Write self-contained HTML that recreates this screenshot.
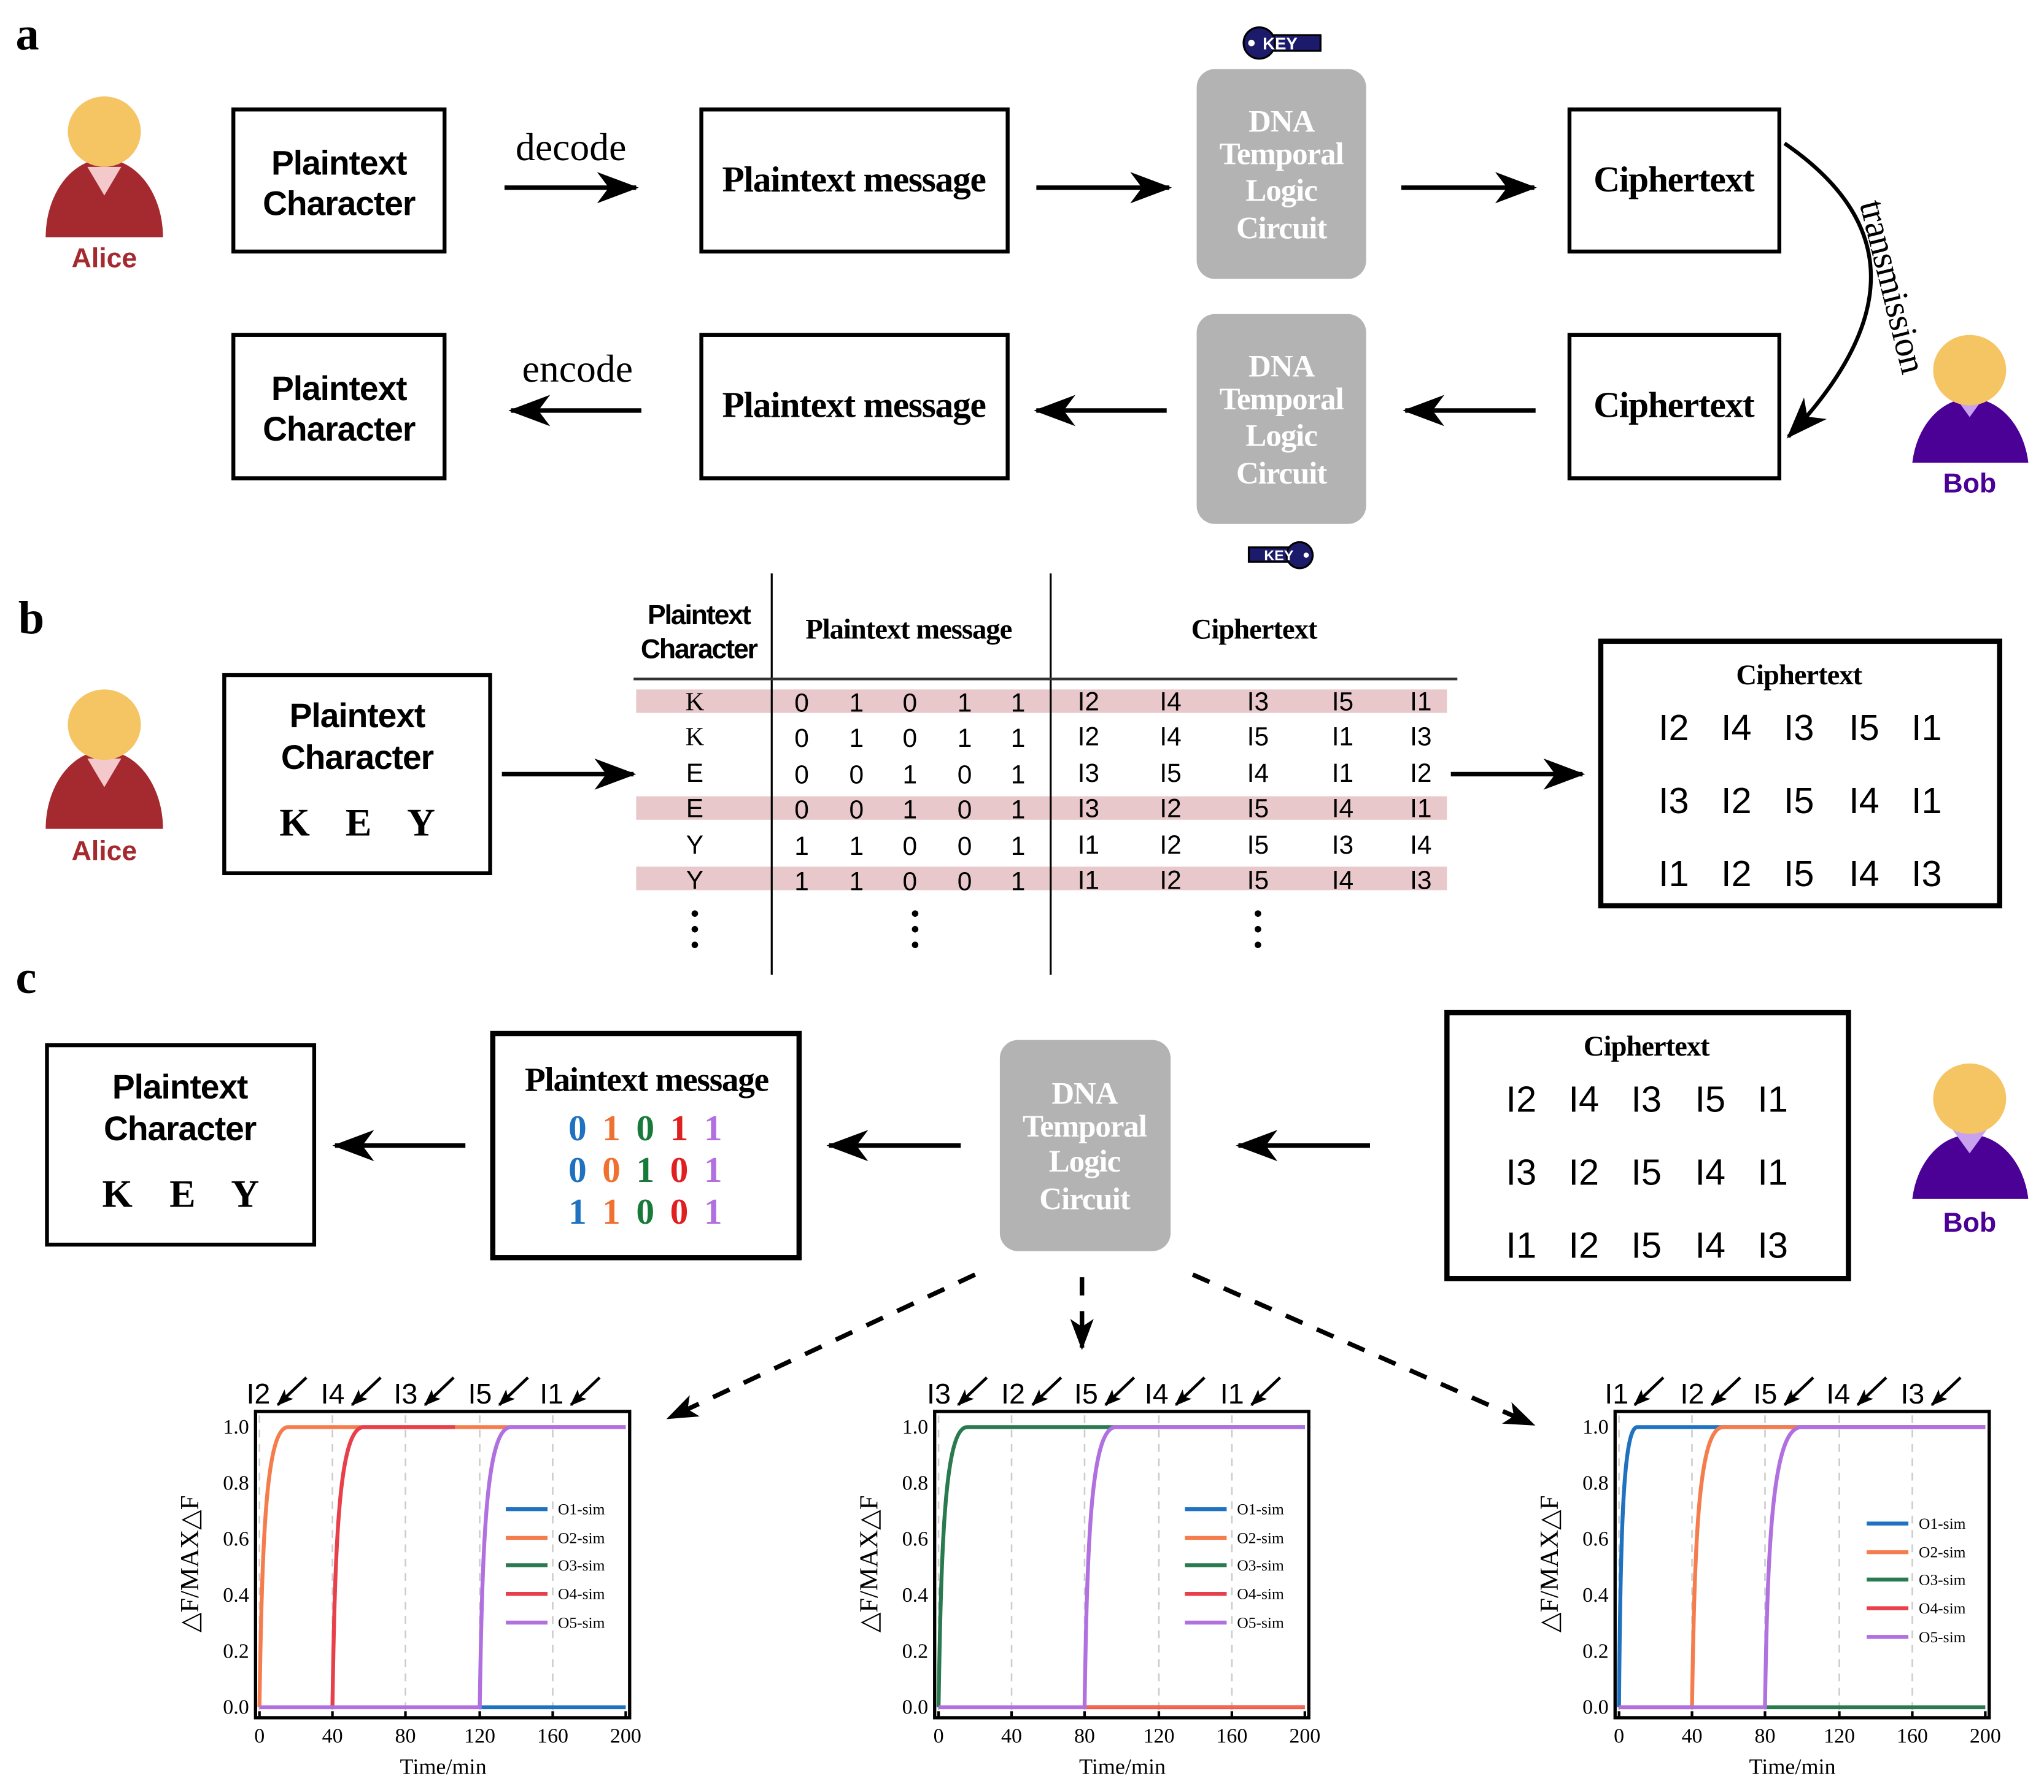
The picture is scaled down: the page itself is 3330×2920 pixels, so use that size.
<!DOCTYPE html>
<html><head><meta charset="utf-8"><style>
html,body{margin:0;padding:0;background:#fff;width:3330px;height:2920px;overflow:hidden}
svg{display:block}
.sb{font-family:"Liberation Sans",sans-serif;font-weight:bold}
.sf{font-family:"Liberation Serif",serif}
.sfb{font-family:"Liberation Serif",serif;font-weight:bold}
.ss{font-family:"Liberation Sans",sans-serif}
</style></head><body>
<svg width="3330" height="2920" viewBox="0 0 1568 1375" xmlns="http://www.w3.org/2000/svg">
<defs>
<marker id="ah" markerUnits="userSpaceOnUse" markerWidth="34" markerHeight="30" refX="30" refY="12" orient="auto">
<path d="M0,0 L32,12 L0,24 L9,12 Z" fill="#000"/>
</marker>
<marker id="ahs" markerUnits="userSpaceOnUse" markerWidth="24" markerHeight="22" refX="22" refY="9" orient="auto">
<path d="M0,0 L24,9 L0,18 L6,9 Z" fill="#000"/>
</marker>
<marker id="sm" markerUnits="userSpaceOnUse" markerWidth="14" markerHeight="12" refX="12" refY="5" orient="auto">
<path d="M0,0 L13,5 L0,10 L3,5 Z" fill="#000"/>
</marker>
</defs>
<rect width="1568" height="1375" fill="#fff"/>

<text x="12" y="38" class="sfb" font-size="36">a</text>
<text x="14" y="486" class="sfb" font-size="36">b</text>
<text x="12" y="762" class="sfb" font-size="36">c</text>

<!-- ===== a ===== -->
<path d="M35,182 A45,60 0 0 1 125,182 Z" fill="#a52a2f"/>
<path d="M67,128 L80,150 L93,128 Z" fill="#f3c9cb"/>
<ellipse cx="80" cy="101" rx="28" ry="27" fill="#f5c463"/>
<text x="80" y="205" text-anchor="middle" class="sb" font-size="21" fill="#a52a2f">Alice</text>

<g fill="none" stroke="#000" stroke-width="3">
<rect x="179" y="84" width="162" height="109"/>
<rect x="538" y="84" width="235" height="109"/>
<rect x="1204" y="84" width="161" height="109"/>
<rect x="179" y="257" width="162" height="110"/>
<rect x="538" y="257" width="235" height="110"/>
<rect x="1204" y="257" width="161" height="110"/>
</g>
<text x="260" y="134" text-anchor="middle" class="sb" font-size="26" letter-spacing="-0.5">Plaintext</text>
<text x="260" y="165" text-anchor="middle" class="sb" font-size="26" letter-spacing="-0.5">Character</text>
<text x="260" y="307" text-anchor="middle" class="sb" font-size="26" letter-spacing="-0.5">Plaintext</text>
<text x="260" y="338" text-anchor="middle" class="sb" font-size="26" letter-spacing="-0.5">Character</text>
<text x="655" y="147" text-anchor="middle" class="sfb" font-size="28" letter-spacing="-0.6">Plaintext message</text>
<text x="655" y="320" text-anchor="middle" class="sfb" font-size="28" letter-spacing="-0.6">Plaintext message</text>
<text x="1284" y="147" text-anchor="middle" class="sfb" font-size="28" letter-spacing="-0.6">Ciphertext</text>
<text x="1284" y="320" text-anchor="middle" class="sfb" font-size="28" letter-spacing="-0.6">Ciphertext</text>
<text x="438" y="123" text-anchor="middle" class="sf" font-size="30">decode</text>
<text x="443" y="293" text-anchor="middle" class="sf" font-size="30">encode</text>

<g stroke="#000" stroke-width="3.5" fill="none" marker-end="url(#ah)">
<line x1="387" y1="144" x2="488" y2="144"/>
<line x1="795" y1="144" x2="897" y2="144"/>
<line x1="1075" y1="144" x2="1177" y2="144"/>
<line x1="492" y1="315" x2="392" y2="315"/>
<line x1="895" y1="315" x2="795" y2="315"/>
<line x1="1178" y1="315" x2="1078" y2="315"/>
</g>
<path d="M1369,110 Q1500,200 1372,335" stroke="#000" stroke-width="3" fill="none" marker-end="url(#ah)"/>
<text transform="translate(1443,222) rotate(76)" text-anchor="middle" class="sf" font-size="28" letter-spacing="-0.5">transmission</text>

<rect x="918" y="53" width="130" height="161" rx="14" fill="#b3b3b3"/>
<g class="sfb" font-size="24" fill="#fff" text-anchor="middle" letter-spacing="-0.5">
<text x="983" y="101">DNA</text><text x="983" y="126">Temporal</text><text x="983" y="154">Logic</text><text x="983" y="183">Circuit</text>
</g>
<rect x="918" y="241" width="130" height="161" rx="14" fill="#b3b3b3"/>
<g class="sfb" font-size="24" fill="#fff" text-anchor="middle" letter-spacing="-0.5">
<text x="983" y="289">DNA</text><text x="983" y="314">Temporal</text><text x="983" y="342">Logic</text><text x="983" y="371">Circuit</text>
</g>
<rect x="968" y="27" width="45" height="12" fill="#1c1a6b" stroke="#000" stroke-width="1.5"/>
<circle cx="966" cy="33" r="12" fill="#1c1a6b" stroke="#000" stroke-width="1.5"/>
<circle cx="960" cy="33" r="2.5" fill="#fff"/>
<text x="982" y="38" text-anchor="middle" class="sb" font-size="13" fill="#fff">KEY</text>
<rect x="958" y="420" width="38" height="11" fill="#1c1a6b" stroke="#000" stroke-width="1.5"/>
<circle cx="997" cy="426" r="10" fill="#1c1a6b" stroke="#000" stroke-width="1.5"/>
<circle cx="1002" cy="426" r="2" fill="#fff"/>
<text x="981" y="430" text-anchor="middle" class="sb" font-size="11" fill="#fff">KEY</text>

<path d="M1467,355 A45,58 0 0 1 1556,355 Z" fill="#4b0096"/>
<path d="M1498,302 L1511,320 L1524,302 Z" fill="#c9a2ef"/>
<ellipse cx="1511" cy="284" rx="28" ry="27" fill="#f5c463"/>
<text x="1511" y="378" text-anchor="middle" class="sb" font-size="21" fill="#4b0096">Bob</text>

<!-- ===== b ===== -->
<path d="M35,636 A45,60 0 0 1 125,636 Z" fill="#a52a2f"/>
<path d="M67,582 L80,604 L93,582 Z" fill="#f3c9cb"/>
<ellipse cx="80" cy="556" rx="28" ry="27" fill="#f5c463"/>
<text x="80" y="660" text-anchor="middle" class="sb" font-size="21" fill="#a52a2f">Alice</text>

<rect x="172" y="518" width="204" height="152" fill="none" stroke="#000" stroke-width="3"/>
<text x="274" y="558" text-anchor="middle" class="sb" font-size="26" letter-spacing="-0.5">Plaintext</text>
<text x="274" y="590" text-anchor="middle" class="sb" font-size="26" letter-spacing="-0.5">Character</text>
<text x="226" y="641" text-anchor="middle" class="sfb" font-size="30">K</text>
<text x="275" y="641" text-anchor="middle" class="sfb" font-size="30">E</text>
<text x="323" y="641" text-anchor="middle" class="sfb" font-size="30">Y</text>
<g stroke="#000" stroke-width="3.5" marker-end="url(#ah)">
<line x1="385" y1="594" x2="486" y2="594"/>
<line x1="1113" y1="594" x2="1214" y2="594"/>
</g>

<g fill="#e8c8ca">
<rect x="488" y="529" width="622" height="18"/>
<rect x="488" y="611" width="622" height="18"/>
<rect x="488" y="665" width="622" height="18"/>
</g>
<line x1="592" y1="440" x2="592" y2="748" stroke="#000" stroke-width="1.5"/>
<line x1="806" y1="440" x2="806" y2="748" stroke="#000" stroke-width="1.5"/>
<line x1="486" y1="521" x2="1118" y2="521" stroke="#333" stroke-width="2"/>
<text x="536" y="479" text-anchor="middle" class="sb" font-size="21" letter-spacing="-1">Plaintext</text>
<text x="536" y="505" text-anchor="middle" class="sb" font-size="21" letter-spacing="-1">Character</text>
<text x="697" y="490" text-anchor="middle" class="sfb" font-size="22" letter-spacing="-0.5">Plaintext message</text>
<text x="962" y="490" text-anchor="middle" class="sfb" font-size="22" letter-spacing="-0.5">Ciphertext</text>
<g class="ss" font-size="20" text-anchor="middle">
<text x="533" y="545" class="sf">K</text><text x="615" y="546">0</text><text x="657" y="546">1</text><text x="698" y="546">0</text><text x="740" y="546">1</text><text x="781" y="546">1</text>
<text x="835" y="545">I2</text><text x="898" y="545">I4</text><text x="965" y="545">I3</text><text x="1030" y="545">I5</text><text x="1090" y="545">I1</text>
<text x="533" y="572" class="sf">K</text><text x="615" y="573">0</text><text x="657" y="573">1</text><text x="698" y="573">0</text><text x="740" y="573">1</text><text x="781" y="573">1</text>
<text x="835" y="572">I2</text><text x="898" y="572">I4</text><text x="965" y="572">I5</text><text x="1030" y="572">I1</text><text x="1090" y="572">I3</text>
<text x="533" y="600">E</text><text x="615" y="601">0</text><text x="657" y="601">0</text><text x="698" y="601">1</text><text x="740" y="601">0</text><text x="781" y="601">1</text>
<text x="835" y="600">I3</text><text x="898" y="600">I5</text><text x="965" y="600">I4</text><text x="1030" y="600">I1</text><text x="1090" y="600">I2</text>
<text x="533" y="627">E</text><text x="615" y="628">0</text><text x="657" y="628">0</text><text x="698" y="628">1</text><text x="740" y="628">0</text><text x="781" y="628">1</text>
<text x="835" y="627">I3</text><text x="898" y="627">I2</text><text x="965" y="627">I5</text><text x="1030" y="627">I4</text><text x="1090" y="627">I1</text>
<text x="533" y="655">Y</text><text x="615" y="656">1</text><text x="657" y="656">1</text><text x="698" y="656">0</text><text x="740" y="656">0</text><text x="781" y="656">1</text>
<text x="835" y="655">I1</text><text x="898" y="655">I2</text><text x="965" y="655">I5</text><text x="1030" y="655">I3</text><text x="1090" y="655">I4</text>
<text x="533" y="682">Y</text><text x="615" y="683">1</text><text x="657" y="683">1</text><text x="698" y="683">0</text><text x="740" y="683">0</text><text x="781" y="683">1</text>
<text x="835" y="682">I1</text><text x="898" y="682">I2</text><text x="965" y="682">I5</text><text x="1030" y="682">I4</text><text x="1090" y="682">I3</text>
</g>
<g fill="#000">
<circle cx="533" cy="701" r="2.5"/><circle cx="533" cy="713" r="2.5"/><circle cx="533" cy="725" r="2.5"/>
<circle cx="702" cy="701" r="2.5"/><circle cx="702" cy="713" r="2.5"/><circle cx="702" cy="725" r="2.5"/>
<circle cx="965" cy="701" r="2.5"/><circle cx="965" cy="713" r="2.5"/><circle cx="965" cy="725" r="2.5"/>
</g>

<rect x="1228" y="492" width="306" height="203" fill="none" stroke="#000" stroke-width="4"/>
<text x="1380" y="525" text-anchor="middle" class="sfb" font-size="22" letter-spacing="-0.5">Ciphertext</text>
<g class="ss" font-size="28" text-anchor="middle">
<text x="1284" y="568">I2</text><text x="1332" y="568">I4</text><text x="1380" y="568">I3</text><text x="1430" y="568">I5</text><text x="1478" y="568">I1</text>
<text x="1284" y="624">I3</text><text x="1332" y="624">I2</text><text x="1380" y="624">I5</text><text x="1430" y="624">I4</text><text x="1478" y="624">I1</text>
<text x="1284" y="680">I1</text><text x="1332" y="680">I2</text><text x="1380" y="680">I5</text><text x="1430" y="680">I4</text><text x="1478" y="680">I3</text>
</g>

<!-- ===== c ===== -->
<rect x="36" y="802" width="205" height="153" fill="none" stroke="#000" stroke-width="3"/>
<text x="138" y="843" text-anchor="middle" class="sb" font-size="26" letter-spacing="-0.5">Plaintext</text>
<text x="138" y="875" text-anchor="middle" class="sb" font-size="26" letter-spacing="-0.5">Character</text>
<text x="90" y="926" text-anchor="middle" class="sfb" font-size="30">K</text>
<text x="140" y="926" text-anchor="middle" class="sfb" font-size="30">E</text>
<text x="188" y="926" text-anchor="middle" class="sfb" font-size="30">Y</text>

<rect x="378" y="793" width="235" height="172" fill="none" stroke="#000" stroke-width="4"/>
<text x="496" y="837" text-anchor="middle" class="sfb" font-size="26" letter-spacing="-0.6">Plaintext message</text>
<g class="sfb" font-size="28" text-anchor="middle">
<text x="443" y="875" fill="#1f72c0">0</text><text x="469" y="875" fill="#f07030">1</text><text x="495" y="875" fill="#17793a">0</text><text x="521" y="875" fill="#e02020">1</text><text x="547" y="875" fill="#b070e0">1</text>
<text x="443" y="907" fill="#1f72c0">0</text><text x="469" y="907" fill="#f07030">0</text><text x="495" y="907" fill="#17793a">1</text><text x="521" y="907" fill="#e02020">0</text><text x="547" y="907" fill="#b070e0">1</text>
<text x="443" y="939" fill="#1f72c0">1</text><text x="469" y="939" fill="#f07030">1</text><text x="495" y="939" fill="#17793a">0</text><text x="521" y="939" fill="#e02020">0</text><text x="547" y="939" fill="#b070e0">1</text>
</g>

<rect x="767" y="798" width="131" height="162" rx="14" fill="#b3b3b3"/>
<g class="sfb" font-size="24" fill="#fff" text-anchor="middle" letter-spacing="-0.5">
<text x="832" y="847">DNA</text><text x="832" y="872">Temporal</text><text x="832" y="899">Logic</text><text x="832" y="928">Circuit</text>
</g>

<rect x="1110" y="777" width="308" height="204" fill="none" stroke="#000" stroke-width="4"/>
<text x="1263" y="810" text-anchor="middle" class="sfb" font-size="22" letter-spacing="-0.5">Ciphertext</text>
<g class="ss" font-size="28" text-anchor="middle">
<text x="1167" y="853">I2</text><text x="1215" y="853">I4</text><text x="1263" y="853">I3</text><text x="1312" y="853">I5</text><text x="1360" y="853">I1</text>
<text x="1167" y="909">I3</text><text x="1215" y="909">I2</text><text x="1263" y="909">I5</text><text x="1312" y="909">I4</text><text x="1360" y="909">I1</text>
<text x="1167" y="965">I1</text><text x="1215" y="965">I2</text><text x="1263" y="965">I5</text><text x="1312" y="965">I4</text><text x="1360" y="965">I3</text>
</g>

<path d="M1467,920 A45,58 0 0 1 1556,920 Z" fill="#4b0096"/>
<path d="M1498,867 L1511,885 L1524,867 Z" fill="#c9a2ef"/>
<ellipse cx="1511" cy="843" rx="28" ry="27" fill="#f5c463"/>
<text x="1511" y="945" text-anchor="middle" class="sb" font-size="21" fill="#4b0096">Bob</text>

<g stroke="#000" stroke-width="3.5" marker-end="url(#ah)">
<line x1="357" y1="879" x2="257" y2="879"/>
<line x1="737" y1="879" x2="636" y2="879"/>
<line x1="1051" y1="879" x2="950" y2="879"/>
</g>
<g stroke="#000" stroke-width="3.5" stroke-dasharray="14,12" fill="none" marker-end="url(#ahs)">
<line x1="748" y1="978" x2="513" y2="1088"/>
<line x1="830" y1="980" x2="830" y2="1034"/>
<line x1="915" y1="978" x2="1176" y2="1093"/>
</g>

<!-- ===== charts ===== -->
<g transform="translate(199,0)">
<g stroke="#ccc" stroke-width="1.2" stroke-dasharray="6,5"><line x1="56" y1="1086" x2="56" y2="1316"/><line x1="112" y1="1086" x2="112" y2="1316"/><line x1="169" y1="1086" x2="169" y2="1316"/><line x1="225" y1="1086" x2="225" y2="1316"/><line x1="0" y1="1086" x2="0" y2="1316"/></g>
<path d="M169,1310 L281,1310" stroke="#1f72c0" stroke-width="3" fill="none"/>
<path d="M0,1310 C2,1180 5,1095 22,1095 L281,1095" stroke="#f57c4c" stroke-width="3" fill="none"/>
<path d="M56,1310 C58,1180 61,1095 80,1095 L150,1095" stroke="#e8404a" stroke-width="3" fill="none"/>
<path d="M0,1310 L169,1310 C171,1180 174,1095 193,1095 L281,1095" stroke="#b070e0" stroke-width="3" fill="none"/>
<rect x="-3" y="1083" width="287" height="235" fill="none" stroke="#000" stroke-width="2.5"/>
<g stroke="#000" stroke-width="2"><line x1="0" y1="1318" x2="0" y2="1313"/><line x1="56" y1="1318" x2="56" y2="1313"/><line x1="112" y1="1318" x2="112" y2="1313"/><line x1="169" y1="1318" x2="169" y2="1313"/><line x1="225" y1="1318" x2="225" y2="1313"/><line x1="281" y1="1318" x2="281" y2="1313"/></g>
<g class="sf" font-size="16" text-anchor="end"><text x="-8" y="1100">1.0</text><text x="-8" y="1143">0.8</text><text x="-8" y="1186">0.6</text><text x="-8" y="1229">0.4</text><text x="-8" y="1272">0.2</text><text x="-8" y="1315">0.0</text></g>
<g class="sf" font-size="16" text-anchor="middle"><text x="0" y="1337">0</text><text x="56" y="1337">40</text><text x="112" y="1337">80</text><text x="169" y="1337">120</text><text x="225" y="1337">160</text><text x="281" y="1337">200</text></g>
<text x="141" y="1361" text-anchor="middle" class="sf" font-size="17">Time/min</text>
<text transform="translate(-47,1200) rotate(-90)" text-anchor="middle" class="sf" font-size="20">△F/MAX△F</text>
<g stroke-width="3"><line x1="189" y1="1158" x2="221" y2="1158" stroke="#1f72c0"/><line x1="189" y1="1180" x2="221" y2="1180" stroke="#f57c4c"/><line x1="189" y1="1201" x2="221" y2="1201" stroke="#2a7a50"/><line x1="189" y1="1223" x2="221" y2="1223" stroke="#e8404a"/><line x1="189" y1="1245" x2="221" y2="1245" stroke="#b070e0"/></g>
<g class="sf" font-size="12"><text x="229" y="1162">O1-sim</text><text x="229" y="1184">O2-sim</text><text x="229" y="1205">O3-sim</text><text x="229" y="1227">O4-sim</text><text x="229" y="1249">O5-sim</text></g>
<g class="ss" font-size="22"><text x="-10" y="1077">I2</text><text x="47" y="1077">I4</text><text x="103" y="1077">I3</text><text x="160" y="1077">I5</text><text x="215" y="1077">I1</text></g>
<g stroke="#000" stroke-width="2.2" marker-end="url(#sm)"><line x1="36" y1="1057" x2="14" y2="1078"/><line x1="93" y1="1057" x2="71" y2="1078"/><line x1="149" y1="1057" x2="127" y2="1078"/><line x1="206" y1="1057" x2="184" y2="1078"/><line x1="261" y1="1057" x2="239" y2="1078"/></g>
</g>

<g transform="translate(720,0)">
<g stroke="#ccc" stroke-width="1.2" stroke-dasharray="6,5"><line x1="56" y1="1086" x2="56" y2="1316"/><line x1="112" y1="1086" x2="112" y2="1316"/><line x1="169" y1="1086" x2="169" y2="1316"/><line x1="225" y1="1086" x2="225" y2="1316"/><line x1="0" y1="1086" x2="0" y2="1316"/></g>
<path d="M112,1310 L281,1310" stroke="#e8404a" stroke-width="3" fill="none"/>
<path d="M112,1310 L281,1310" stroke="#f57c4c" stroke-width="2" fill="none" opacity="0.7"/>
<path d="M0,1310 C2,1180 5,1095 22,1095 L281,1095" stroke="#2a7a50" stroke-width="3" fill="none"/>
<path d="M0,1310 L112,1310 C114,1180 117,1095 136,1095 L281,1095" stroke="#b070e0" stroke-width="3" fill="none"/>
<rect x="-3" y="1083" width="287" height="235" fill="none" stroke="#000" stroke-width="2.5"/>
<g stroke="#000" stroke-width="2"><line x1="0" y1="1318" x2="0" y2="1313"/><line x1="56" y1="1318" x2="56" y2="1313"/><line x1="112" y1="1318" x2="112" y2="1313"/><line x1="169" y1="1318" x2="169" y2="1313"/><line x1="225" y1="1318" x2="225" y2="1313"/><line x1="281" y1="1318" x2="281" y2="1313"/></g>
<g class="sf" font-size="16" text-anchor="end"><text x="-8" y="1100">1.0</text><text x="-8" y="1143">0.8</text><text x="-8" y="1186">0.6</text><text x="-8" y="1229">0.4</text><text x="-8" y="1272">0.2</text><text x="-8" y="1315">0.0</text></g>
<g class="sf" font-size="16" text-anchor="middle"><text x="0" y="1337">0</text><text x="56" y="1337">40</text><text x="112" y="1337">80</text><text x="169" y="1337">120</text><text x="225" y="1337">160</text><text x="281" y="1337">200</text></g>
<text x="141" y="1361" text-anchor="middle" class="sf" font-size="17">Time/min</text>
<text transform="translate(-47,1200) rotate(-90)" text-anchor="middle" class="sf" font-size="20">△F/MAX△F</text>
<g stroke-width="3"><line x1="189" y1="1158" x2="221" y2="1158" stroke="#1f72c0"/><line x1="189" y1="1180" x2="221" y2="1180" stroke="#f57c4c"/><line x1="189" y1="1201" x2="221" y2="1201" stroke="#2a7a50"/><line x1="189" y1="1223" x2="221" y2="1223" stroke="#e8404a"/><line x1="189" y1="1245" x2="221" y2="1245" stroke="#b070e0"/></g>
<g class="sf" font-size="12"><text x="229" y="1162">O1-sim</text><text x="229" y="1184">O2-sim</text><text x="229" y="1205">O3-sim</text><text x="229" y="1227">O4-sim</text><text x="229" y="1249">O5-sim</text></g>
<g class="ss" font-size="22"><text x="-9" y="1077">I3</text><text x="48" y="1077">I2</text><text x="104" y="1077">I5</text><text x="158" y="1077">I4</text><text x="216" y="1077">I1</text></g>
<g stroke="#000" stroke-width="2.2" marker-end="url(#sm)"><line x1="37" y1="1057" x2="15" y2="1078"/><line x1="94" y1="1057" x2="72" y2="1078"/><line x1="150" y1="1057" x2="128" y2="1078"/><line x1="204" y1="1057" x2="182" y2="1078"/><line x1="262" y1="1057" x2="240" y2="1078"/></g>
</g>

<g transform="translate(1242,0)">
<g stroke="#ccc" stroke-width="1.2" stroke-dasharray="6,5"><line x1="56" y1="1086" x2="56" y2="1316"/><line x1="112" y1="1086" x2="112" y2="1316"/><line x1="169" y1="1086" x2="169" y2="1316"/><line x1="225" y1="1086" x2="225" y2="1316"/><line x1="0" y1="1086" x2="0" y2="1316"/></g>
<path d="M112,1310 L281,1310" stroke="#2a7a50" stroke-width="3" fill="none"/>
<path d="M0,1310 C1,1180 3,1095 14,1095 L281,1095" stroke="#1f72c0" stroke-width="3" fill="none"/>
<path d="M0,1310 L56,1310 C58,1180 61,1095 80,1095 L281,1095" stroke="#f57c4c" stroke-width="3" fill="none"/>
<path d="M0,1310 L112,1310 C114,1180 118,1095 140,1095 L281,1095" stroke="#b070e0" stroke-width="3" fill="none"/>
<rect x="-3" y="1083" width="287" height="235" fill="none" stroke="#000" stroke-width="2.5"/>
<g stroke="#000" stroke-width="2"><line x1="0" y1="1318" x2="0" y2="1313"/><line x1="56" y1="1318" x2="56" y2="1313"/><line x1="112" y1="1318" x2="112" y2="1313"/><line x1="169" y1="1318" x2="169" y2="1313"/><line x1="225" y1="1318" x2="225" y2="1313"/><line x1="281" y1="1318" x2="281" y2="1313"/></g>
<g class="sf" font-size="16" text-anchor="end"><text x="-8" y="1100">1.0</text><text x="-8" y="1143">0.8</text><text x="-8" y="1186">0.6</text><text x="-8" y="1229">0.4</text><text x="-8" y="1272">0.2</text><text x="-8" y="1315">0.0</text></g>
<g class="sf" font-size="16" text-anchor="middle"><text x="0" y="1337">0</text><text x="56" y="1337">40</text><text x="112" y="1337">80</text><text x="169" y="1337">120</text><text x="225" y="1337">160</text><text x="281" y="1337">200</text></g>
<text x="133" y="1361" text-anchor="middle" class="sf" font-size="17">Time/min</text>
<text transform="translate(-47,1200) rotate(-90)" text-anchor="middle" class="sf" font-size="20">△F/MAX△F</text>
<g stroke-width="3"><line x1="190" y1="1169" x2="222" y2="1169" stroke="#1f72c0"/><line x1="190" y1="1191" x2="222" y2="1191" stroke="#f57c4c"/><line x1="190" y1="1212" x2="222" y2="1212" stroke="#2a7a50"/><line x1="190" y1="1234" x2="222" y2="1234" stroke="#e8404a"/><line x1="190" y1="1256" x2="222" y2="1256" stroke="#b070e0"/></g>
<g class="sf" font-size="12"><text x="230" y="1173">O1-sim</text><text x="230" y="1195">O2-sim</text><text x="230" y="1216">O3-sim</text><text x="230" y="1238">O4-sim</text><text x="230" y="1260">O5-sim</text></g>
<g class="ss" font-size="22"><text x="-11" y="1077">I1</text><text x="47" y="1077">I2</text><text x="103" y="1077">I5</text><text x="159" y="1077">I4</text><text x="216" y="1077">I3</text></g>
<g stroke="#000" stroke-width="2.2" marker-end="url(#sm)"><line x1="34" y1="1057" x2="12" y2="1078"/><line x1="93" y1="1057" x2="71" y2="1078"/><line x1="149" y1="1057" x2="127" y2="1078"/><line x1="205" y1="1057" x2="183" y2="1078"/><line x1="262" y1="1057" x2="240" y2="1078"/></g>
</g>
</svg>
</body></html>
